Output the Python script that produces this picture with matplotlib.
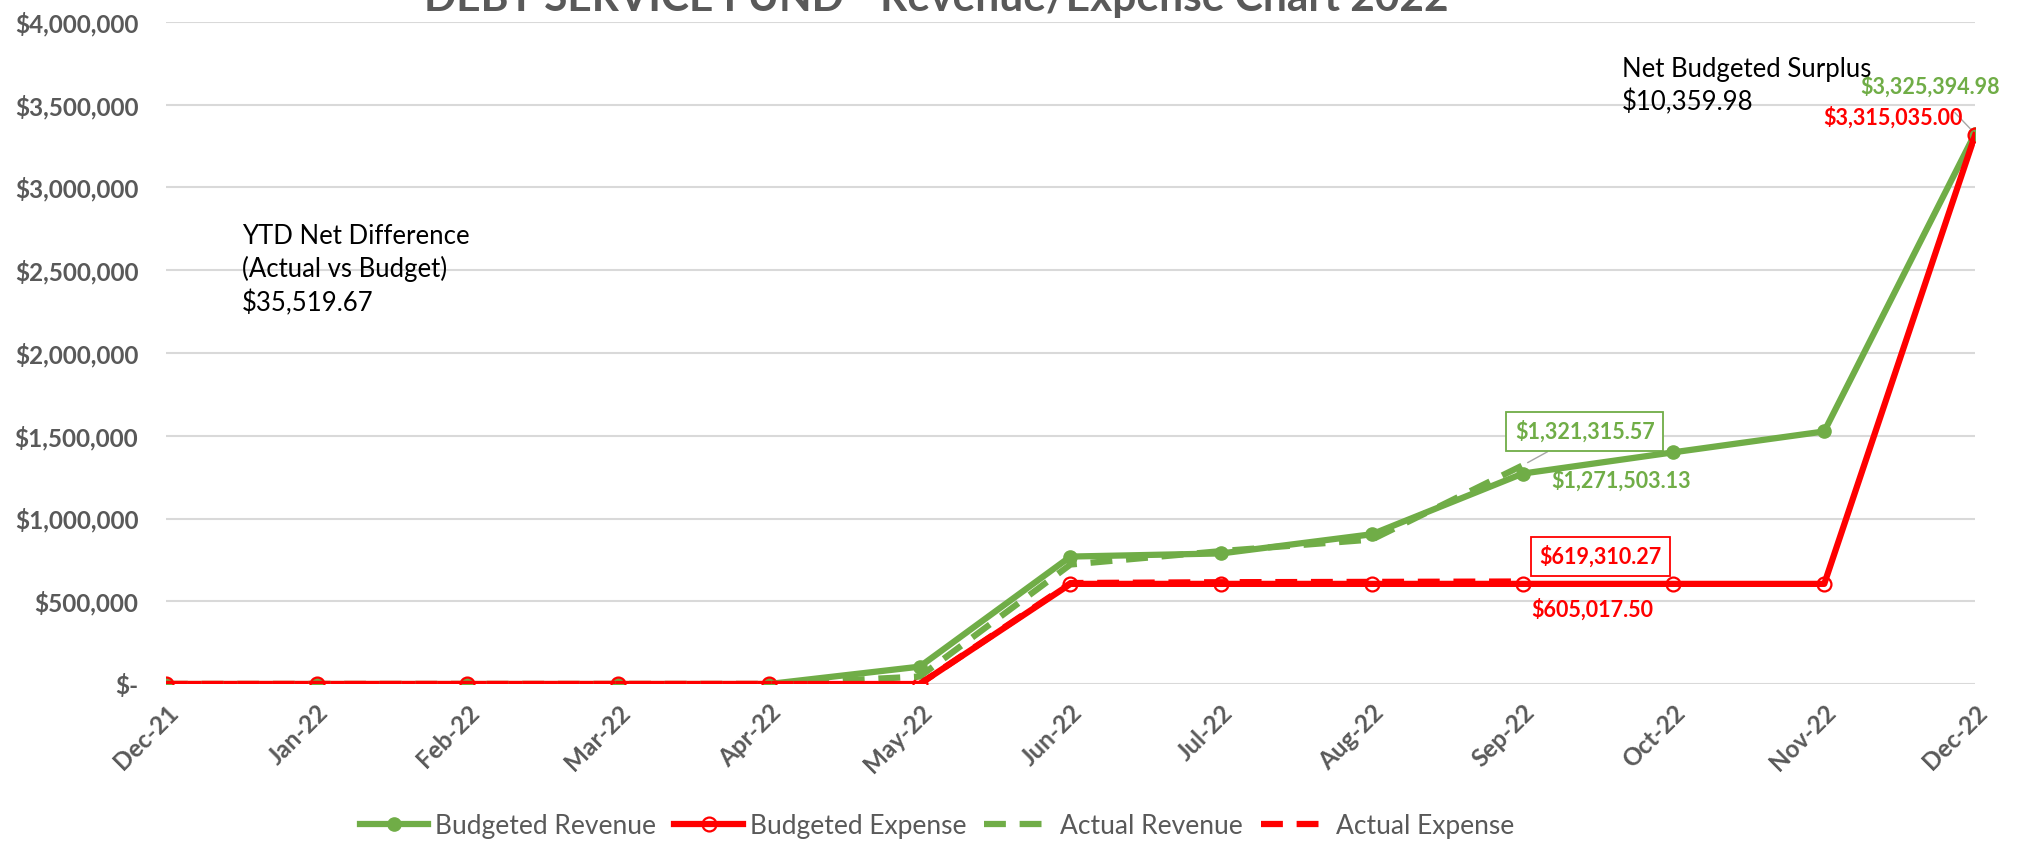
import matplotlib
matplotlib.use("Agg")
import matplotlib.pyplot as plt
import numpy as np

months = ["Dec-21", "Jan-22", "Feb-22", "Mar-22", "Apr-22", "May-22", "Jun-22",
          "Jul-22", "Aug-22", "Sep-22", "Oct-22", "Nov-22", "Dec-22"]
budgeted_revenue = [0, 0, 0, 0, 0, 105000, 770000, 789000, 905000, 1271503.13,
                    1400000, 1526000, 3325394.98]
budgeted_expense = [0, 0, 0, 0, 0, 0, 605017.50, 605017.50, 605017.50, 605017.50,
                    605017.50, 605017.50, 3315035.00]
actual_revenue = [0, 0, 0, 0, 0, 45000, 722000, 803000, 873000, 1321315.57]
actual_expense = [0, 0, 0, 0, 0, 0, 610000, 615000, 617000, 619310.27]
yticks = [0, 500000, 1000000, 1500000, 2000000, 2500000, 3000000, 3500000, 4000000]
ytick_labels = ["$-", "$500,000", "$1,000,000", "$1,500,000", "$2,000,000",
                "$2,500,000", "$3,000,000", "$3,500,000", "$4,000,000"]

GREEN = "#70AD47"
RED = "#FF0000"
GREY = "#595959"
FONT = ["Lato", "DejaVu Sans"]
plt.rcParams["font.family"] = FONT

fig = plt.figure(figsize=(20.32, 8.46), dpi=100)
ax = fig.add_axes([166/2032, 1-684/846, (1975-166)/2032, (684-22)/846])

x = np.arange(len(months))
xa = np.arange(len(actual_revenue))

lw = 4.5
ax.plot(x, budgeted_revenue, color=GREEN, lw=lw, marker="o", ms=9.5,
        mfc=GREEN, mec=GREEN, label="Budgeted Revenue", zorder=3)
ax.plot(x, budgeted_expense, color=RED, lw=lw, marker="o", ms=10,
        mfc="none", mec=RED, mew=1.6, label="Budgeted Expense", zorder=4)
ax.plot(xa, actual_revenue, color=GREEN, lw=lw, ls=(0, (3.5, 2.2)),
        label="Actual Revenue", zorder=5)
ax.plot(xa, actual_expense, color=RED, lw=lw, ls=(0, (3.5, 2.2)),
        label="Actual Expense", zorder=5)

ax.set_xlim(0, len(months) - 1)
ax.set_ylim(0, 4000000)
ax.set_yticks(yticks)
ax.set_yticklabels(ytick_labels)
ax.set_xticks(x)
ax.set_xticklabels(months, rotation=45, ha="right", rotation_mode="anchor")
for s in ax.spines.values():
    s.set_visible(False)
ax.tick_params(length=0, labelsize=17.5, labelcolor=GREY)
ax.tick_params(axis="y", pad=20)
ax.tick_params(axis="x", pad=12)
for lab in ax.get_xticklabels() + ax.get_yticklabels():
    lab.set_fontweight("bold")
ax.grid(axis="y", color="#D9D9D9", lw=1.5)
ax.set_axisbelow(True)

# title (partially cut at top)
fig.text(936/2032, 1-11/846, "DEBT SERVICE FUND - Revenue/Expense Chart 2022",
         ha="center", va="baseline", fontsize=30.5, fontweight="bold", color=GREY)

# text boxes
fig.text(242/2032, 1-270/846, "YTD Net Difference\n(Actual vs Budget)\n$35,519.67",
         ha="left", va="center", fontsize=18.5, color="black", linespacing=1.35)
fig.text(1622/2032, 1-86/846, "Net Budgeted Surplus\n$10,359.98",
         ha="left", va="center", fontsize=18.5, color="black", linespacing=1.35)

lab_kw = dict(fontsize=15.5, fontweight="bold", textcoords="offset pixels")
# Dec-22 labels
ax.annotate("$3,325,394.98", xy=(12, budgeted_revenue[12]), xytext=(-45, 47),
            ha="center", va="center", color=GREEN,
            arrowprops=dict(arrowstyle="-", color="#A6A6A6", lw=1,
                            shrinkA=12, shrinkB=4), **lab_kw)
ax.annotate("$3,315,035.00", xy=(12, budgeted_expense[12]), xytext=(-82, 18),
            ha="center", va="center", color=RED, **lab_kw)
# Sep-22 labels
ax.annotate("$1,321,315.57", xy=(9, actual_revenue[9]), xytext=(62, 34),
            ha="center", va="center", color=GREEN,
            bbox=dict(boxstyle="square,pad=0.4", fc="white", ec=GREEN, lw=1.3),
            arrowprops=dict(arrowstyle="-", color="#A6A6A6", lw=1,
                            shrinkA=0, shrinkB=4), **lab_kw)
ax.annotate("$1,271,503.13", xy=(9, budgeted_revenue[9]), xytext=(98, -7),
            ha="center", va="center", color=GREEN, **lab_kw)
ax.annotate("$619,310.27", xy=(9, actual_expense[9]), xytext=(78, 25),
            ha="center", va="center", color=RED,
            bbox=dict(boxstyle="square,pad=0.4", fc="white", ec=RED, lw=1.3),
            **lab_kw)
ax.annotate("$605,017.50", xy=(9, budgeted_expense[9]), xytext=(70, -26),
            ha="center", va="center", color=RED, **lab_kw)

leg = fig.legend(loc="center", bbox_to_anchor=(937/2032, 1-826/846), ncol=4,
                 frameon=False, fontsize=19, handlelength=2.6, columnspacing=0.7,
                 handletextpad=0.25)
for t in leg.get_texts():
    t.set_color(GREY)

fig.savefig("out.png", dpi=100)
